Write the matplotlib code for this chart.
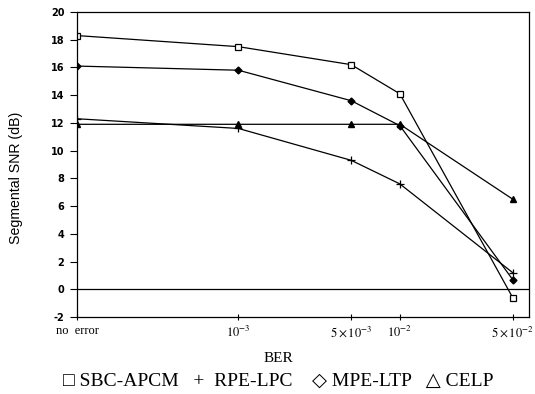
import matplotlib
matplotlib.use("Agg")
import matplotlib.pyplot as plt
from matplotlib.ticker import NullLocator

ber = [1e-4, 1e-3, 5e-3, 1e-2, 5e-2]
xtick_labels = ["no  error", r"$10^{-3}$", r"$5\times10^{-3}$", r"$10^{-2}$", r"$5\times10^{-2}$"]
sbc_apcm = [18.3, 17.5, 16.2, 14.1, -0.6]
rpe_lpc = [12.3, 11.6, 9.3, 7.6, 1.2]
mpe_ltp = [16.1, 15.8, 13.6, 11.8, 0.7]
celp = [11.9, 11.9, 11.9, 11.9, 6.5]
yticks = list(range(-2, 21, 2))

serif = ["Liberation Serif", "DejaVu Serif"]
plt.rcParams["mathtext.fontset"] = "stix"

W, H = 535, 394
fig = plt.figure(figsize=(W / 100, H / 100), dpi=100)
ax = fig.add_axes([77 / W, 1 - 317 / H, (529 - 77) / W, (317 - 12) / H])

lw = 0.9
ax.plot(ber, sbc_apcm, color="black", lw=lw, marker="s", ms=4.5, mfc="white", mec="black", mew=0.9)
ax.plot(ber, rpe_lpc, color="black", lw=lw, marker="+", ms=6, mew=0.9)
ax.plot(ber, mpe_ltp, color="black", lw=lw, marker="D", ms=3.5, mfc="black", mec="black")
ax.plot(ber, celp, color="black", lw=lw, marker="^", ms=4.5, mfc="black", mec="black")
ax.axhline(0, color="black", lw=0.9)

ax.set_xscale("log")
ax.set_xlim(1e-4, 10 ** -1.2)
ax.set_ylim(-2, 20)
ax.set_xticks(ber)
ax.set_xticklabels(xtick_labels, fontfamily=serif, fontsize=9)
ax.xaxis.set_minor_locator(NullLocator())
ax.tick_params(axis="x", direction="inout", length=5, width=0.8, pad=3)
ax.set_yticks(yticks)
ax.set_yticklabels([str(v) for v in yticks], fontsize=7, fontweight="bold")
ax.tick_params(axis="y", direction="out", length=5, width=0.8, pad=4)
for s in ax.spines.values():
    s.set_linewidth(0.9)

ylab = ax.set_ylabel("Segmental SNR (dB)", fontsize=9.5, family=["Liberation Sans", "DejaVu Sans"])
ax.yaxis.set_label_coords((23 - 77) / (529 - 77), (317 - 178) / (317 - 12))
ax.set_xlabel("BER", fontfamily=serif, fontsize=11)
ax.xaxis.set_label_coords((278 - 77) / (529 - 77), -(358 - 317) / (317 - 12))
ax.xaxis.label.set_verticalalignment("center")

leg = fig.text(63 / W, 1 - 381 / H,
               "\u25a1 SBC-APCM   +  RPE-LPC    \u25c7 MPE-LTP   \u25b3 CELP",
               ha="left", va="center", fontsize=11,
               family=["Liberation Serif", "DejaVu Sans"])

# fit text sizes to measured extents
fig.canvas.draw()
r = fig.canvas.get_renderer()
bb = leg.get_window_extent(r)
leg.set_fontsize(11 * 430 / bb.width)
bb = ylab.get_window_extent(r)
ylab.set_fontsize(9.5 * 133 / bb.height)

fig.savefig("out.png", dpi=100)
